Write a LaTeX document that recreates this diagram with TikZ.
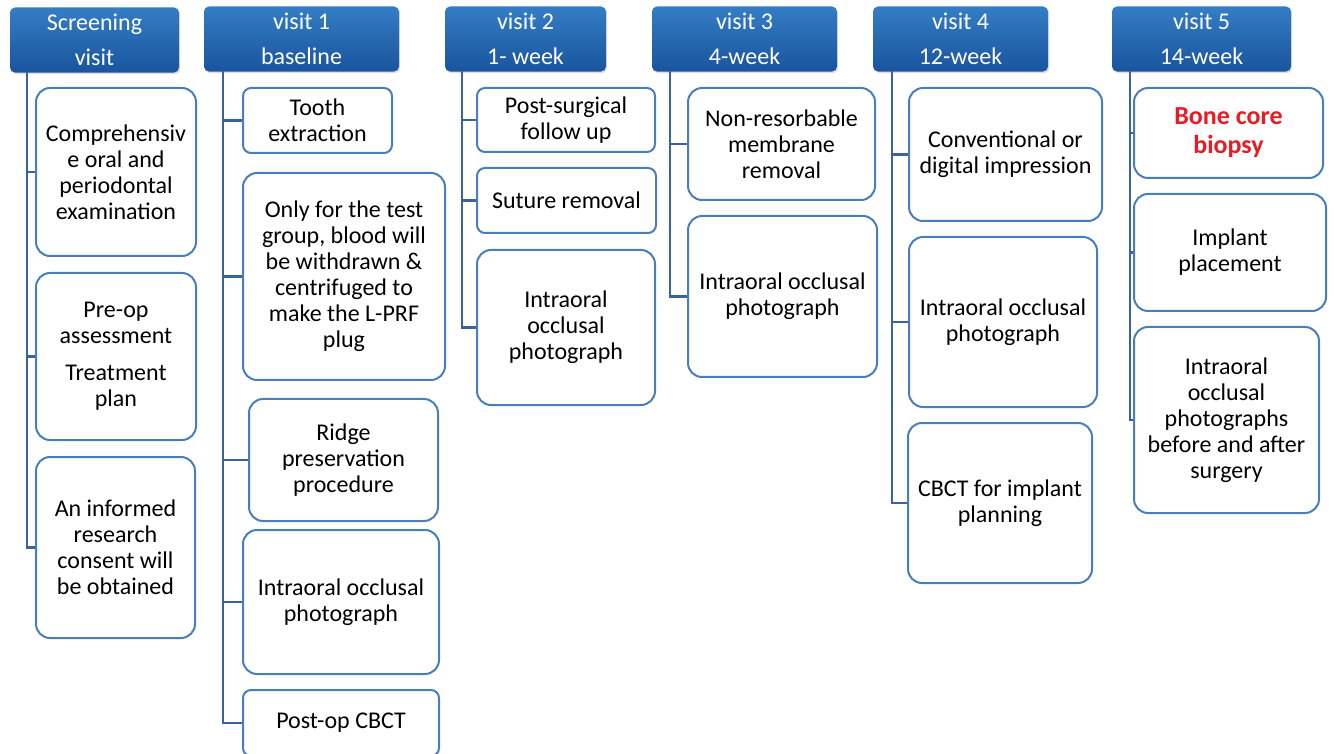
\documentclass[tikz,border=0pt]{standalone}
\usepackage{fontspec}
\setmainfont{Carlito}
\usetikzlibrary{shadows}
\definecolor{headtop}{RGB}{52,125,196}
\definecolor{headbot}{RGB}{25,85,158}
\definecolor{boxline}{RGB}{74,126,187}
\definecolor{linkline}{RGB}{56,99,160}
\definecolor{biopsyred}{RGB}{232,28,36}
\begin{document}
\begin{tikzpicture}[x=0.5pt, y=-0.5pt,
    visit/.style={draw=none, rounded corners=2.5pt, top color=headtop, bottom color=headbot,
        text=white, align=center, font=\fontsize{12}{13}\selectfont,
        drop shadow={opacity=0.25, shadow xshift=0.6pt, shadow yshift=-0.8pt}},
    task/.style={draw=boxline, line width=1pt, fill=white, rounded corners=7pt,
        align=center, font=\fontsize{12}{13}\selectfont},
    small/.style={rounded corners=4pt},
    link/.style={draw=linkline, line width=1.3pt}]
    \def \px {0.5pt}
    \useasboundingbox (0,0) rectangle (1334,754);
    % visit headers
    \node[visit, minimum width=169*\px, minimum height=64*\px] (v0) at (94.5,40) {Screening\\[4.5pt]visit};
    \node[visit, minimum width=195*\px, minimum height=64*\px] (v1) at (301.5,39) {visit 1\\[4.5pt]baseline};
    \node[visit, minimum width=161*\px, minimum height=64*\px] (v2) at (525.5,39) {visit 2\\[4.5pt]1- week};
    \node[visit, minimum width=185*\px, minimum height=64*\px] (v3) at (744.5,39) {visit 3\\[4.5pt]4-week};
    \node[visit, minimum width=175*\px, minimum height=64*\px] (v4) at (960.5,39) {visit 4\\[4.5pt]12-week};
    \node[visit, minimum width=179*\px, minimum height=64*\px] (v5) at (1201.5,39) {visit 5\\[4.5pt]14-week};
    % trunk tops
    \coordinate (t0) at (27,72);
    \coordinate (t1) at (223,71);
    \coordinate (t2) at (462,71);
    \coordinate (t3) at (670,71);
    \coordinate (t4) at (892,71);
    \coordinate (t5) at (1130,71);
    % screening visit
    \node[task, minimum width=160*\px, minimum height=168*\px] (b01) at (116,172) {Comprehensiv\\e oral and\\periodontal\\examination};
    \node[task, minimum width=160*\px, minimum height=167*\px] (b02) at (116,356.5) {Pre-op\\assessment\\[5.5pt]Treatment\\plan};
    \node[task, minimum width=159*\px, minimum height=181*\px] (b03) at (115.5,547.5) {An informed\\research\\consent will\\be obtained};
    % visit 1
    \node[task, small, minimum width=149*\px, minimum height=65*\px] (b11) at (317.5,120.5) {Tooth\\extraction};
    \node[task, minimum width=202*\px, minimum height=207*\px] (b12) at (344,276.5) {Only for the test\\group, blood will\\be withdrawn \&\\centrifuged to\\make the L-PRF\\plug};
    \node[task, minimum width=189*\px, minimum height=122*\px] (b13) at (343.5,460) {Ridge\\preservation\\procedure};
    \node[task, minimum width=196*\px, minimum height=144*\px] (b14) at (341,602) {Intraoral occlusal\\photograph};
    \node[task, small, minimum width=196*\px, minimum height=66*\px] (b15) at (341,723) {Post-op CBCT};
    % visit 2
    \node[task, small, minimum width=178*\px, minimum height=64*\px] (b21) at (566,120) {Post-surgical\\follow up};
    \node[task, small, minimum width=179*\px, minimum height=65*\px] (b22) at (566.5,200.5) {Suture removal};
    \node[task, minimum width=178*\px, minimum height=155*\px] (b23) at (566,327.5) {Intraoral\\occlusal\\photograph};
    % visit 3
    \node[task, minimum width=187*\px, minimum height=112*\px] (b31) at (781.5,144) {Non-resorbable\\membrane\\removal};
    \node[task, minimum width=189*\px, minimum height=161*\px] (b32) at (782.5,296.5) {Intraoral occlusal\\photograph};
    % visit 4
    \node[task, minimum width=193*\px, minimum height=133*\px] (b41) at (1005.5,154.5) {Conventional or\\digital impression};
    \node[task, minimum width=188*\px, minimum height=170*\px] (b42) at (1003,322) {Intraoral occlusal\\photograph};
    \node[task, minimum width=184*\px, minimum height=160*\px] (b43) at (1000,503) {CBCT for implant\\planning};
    % visit 5
    \node[task, minimum width=189*\px, minimum height=90*\px, text=biopsyred,
        font=\fontsize{13}{14.5}\selectfont\bfseries] (b51) at (1228.5,133) {Bone core\\biopsy};
    \node[task, minimum width=192*\px, minimum height=117*\px] (b52) at (1230,252.5) {Implant\\placement};
    \node[task, minimum width=185*\px, minimum height=186*\px] (b53) at (1226.5,420) {Intraoral\\occlusal\\photographs\\before and after\\surgery};
    % connectors
    \draw[link] (t0) |- (b01.west);
    \draw[link] (t0) |- (b02.west);
    \draw[link] (t0) |- (b03.west);
    \draw[link] (t1) |- (b11.west);
    \draw[link] (t1) |- (b12.west);
    \draw[link] (t1) |- (b13.west);
    \draw[link] (t1) |- (b14.west);
    \draw[link] (t1) |- (b15.west);
    \draw[link] (t2) |- (b21.west);
    \draw[link] (t2) |- (b22.west);
    \draw[link] (t2) |- (b23.west);
    \draw[link] (t3) |- (b31.west);
    \draw[link] (t3) |- (b32.west);
    \draw[link] (t4) |- (b41.west);
    \draw[link] (t4) |- (b42.west);
    \draw[link] (t4) |- (b43.west);
    \draw[link] (t5) |- (b51.west);
    \draw[link] (t5) |- (b52.west);
    \draw[link] (t5) |- (b53.west);
\end{tikzpicture}
\end{document}
